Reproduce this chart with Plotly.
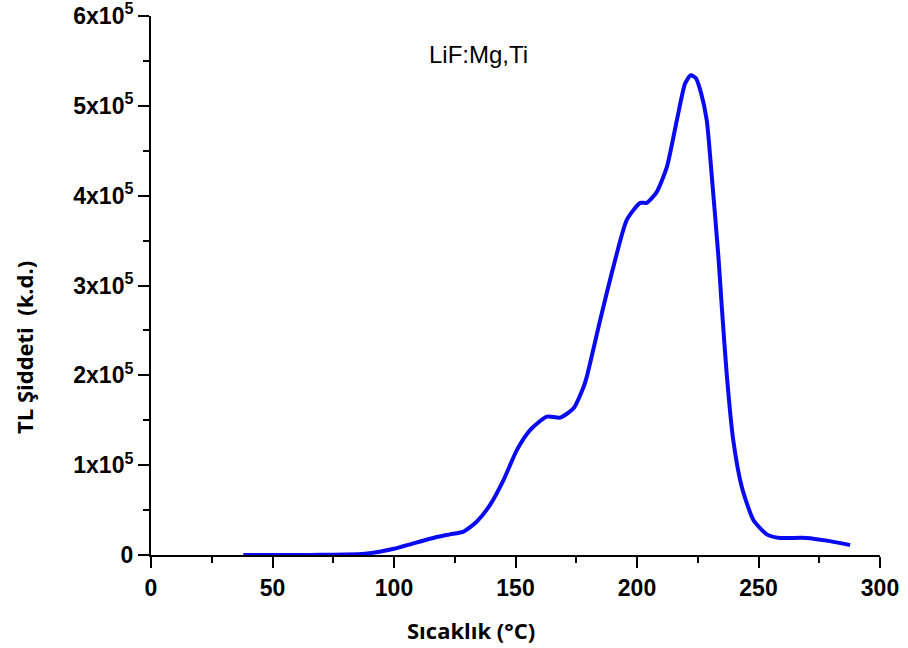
import plotly.graph_objects as go

# Temperature (°C) and TL intensity (a.u.)
temperature = [38, 50, 60, 70, 80, 88, 94, 100, 108, 117.6, 123, 128.6, 134, 139.6, 145,
               150.6, 156, 162.9, 168.4, 173.8, 178, 179.3, 184.8, 190.3, 195.8, 201.3,
               204, 208.1, 212.3, 216.4, 219.8, 222.1, 224.2, 226.3, 228.7, 230.8, 233.5,
               234.9, 236.9, 239.6, 243.1, 247.9, 253.4, 258.9, 263, 269.8, 278.1, 287.7]
intensity = [0, 0, 0, 0.002, 0.006, 0.015, 0.037, 0.07, 0.13, 0.20, 0.23, 0.26, 0.37, 0.56,
             0.83, 1.17, 1.39, 1.54, 1.53, 1.63, 1.87, 1.98, 2.61, 3.21, 3.73, 3.92,
             3.92, 4.04, 4.32, 4.84, 5.25, 5.34, 5.31, 5.15, 4.84, 4.21, 3.32,
             2.76, 2.02, 1.28, 0.76, 0.39, 0.23, 0.19, 0.19, 0.19, 0.16, 0.11]
intensity = [v * 1e5 for v in intensity]

x_ticks = [0, 50, 100, 150, 200, 250, 300]
y_ticks = [0, 1e5, 2e5, 3e5, 4e5, 5e5, 6e5]
y_ticktext = ["0"] + [f"{i}x10<sup>5</sup>" for i in range(1, 7)]
x_ticktext = [str(v) for v in x_ticks]

fig = go.Figure()
fig.add_trace(go.Scatter(
    x=temperature, y=intensity, mode="lines",
    line=dict(color="rgb(10,10,240)", width=4, shape="spline", smoothing=0.6),
    showlegend=False,
))

axis_common = dict(
    showline=True, linecolor="black", linewidth=2,
    ticks="outside", ticklen=11, tickwidth=2, tickcolor="black",
    showgrid=False, zeroline=False, automargin=False,
    ticklabeloverflow="allow",
    tickfont=dict(family="Liberation Sans, Arial", size=23, color="black", weight="bold"),
)

fig.update_layout(
    width=908, height=648,
    margin=dict(l=151, r=28, t=16, b=93),
    paper_bgcolor="white", plot_bgcolor="white",
    xaxis=dict(range=[0, 300], tickvals=x_ticks, ticktext=x_ticktext,
               minor=dict(dtick=25, tick0=0, ticklen=6, tickwidth=2, tickcolor="black", ticks="outside"),
               **axis_common),
    yaxis=dict(range=[0, 6e5], tickvals=y_ticks, ticktext=y_ticktext,
               minor=dict(dtick=5e4, tick0=0, ticklen=6, tickwidth=2, tickcolor="black", ticks="outside"),
               **axis_common),
    annotations=[
        dict(text="LiF:Mg,Ti", x=478, y=54, showarrow=False,
             font=dict(family="Liberation Sans, Arial", size=24, color="black")),
        dict(text="Sıcaklık (°C)", x=471, y=630, showarrow=False,
             font=dict(family="Open Sans", size=22, color="black", weight="bold")),
        dict(text="TL Şiddeti  (k.d.)", x=24, y=348, showarrow=False, textangle=-90,
             font=dict(family="Open Sans", size=22, color="black", weight="bold")),
    ],
)

# convert pixel-placed annotations to paper coordinates
L, R, T, B = 151, 908 - 28, 16, 648 - 93
new_ann = []
for a in fig.layout.annotations:
    a = a.to_plotly_json()
    a["xref"] = "paper"
    a["yref"] = "paper"
    a["x"] = (a["x"] - L) / (R - L)
    a["y"] = (B - a["y"]) / (B - T)
    a["xanchor"] = "center"
    a["yanchor"] = "middle"
    new_ann.append(a)
fig.layout.annotations = new_ann

fig.write_html("out.html")
